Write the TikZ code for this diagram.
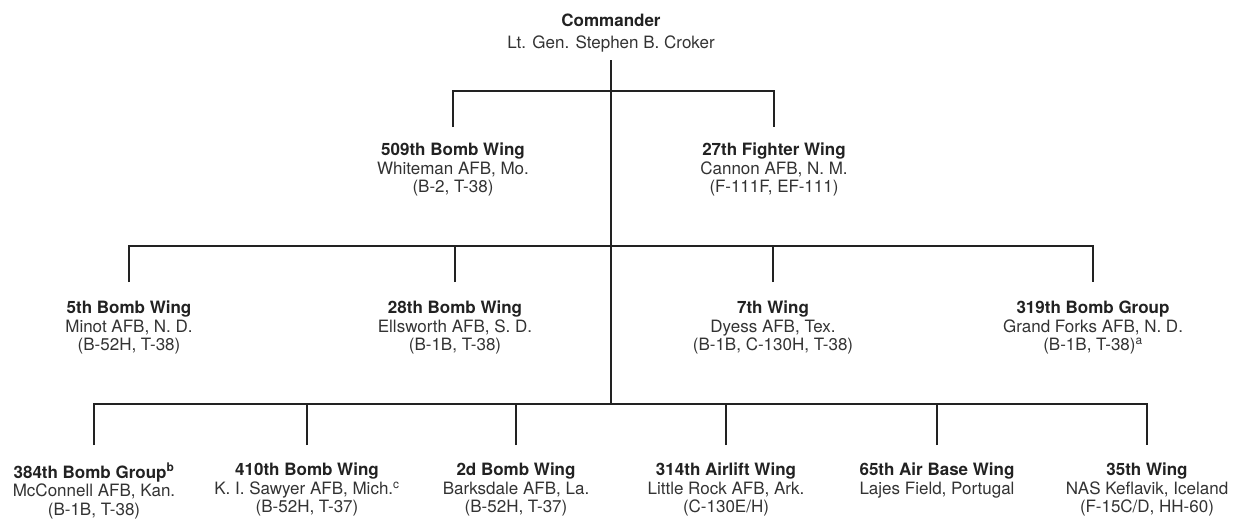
\documentclass[tikz,border=0pt]{standalone}
\usepackage{fontspec}
\setmainfont{TeX Gyre Heros}
\definecolor{ink}{HTML}{222222}
\definecolor{txt}{HTML}{333333}
\begin{document}
\begin{tikzpicture}[x=1pt,y=-1pt,
  unit/.style={anchor=north,align=center,inner sep=0pt,text=txt,
    font=\fontsize{17}{18.5}\selectfont},
  tree/.style={draw=ink,line width=2.4pt,line cap=butt,line join=miter}]
\useasboundingbox[fill=white] (0,0) rectangle (1253,523);
% commander
\node[unit,font=\fontsize{17}{21.5}\selectfont] (cmd) at (611,14) {\textbf{\color{ink}Commander}\\Lt. Gen. Stephen B. Croker};
% row 1
\node[unit] (w509) at (453,143) {\textbf{\color{ink}509th Bomb Wing}\\Whiteman AFB, Mo.\\(B-2, T-38)};
\node[unit] (w27) at (774,143) {\textbf{\color{ink}27th Fighter Wing}\\Cannon AFB, N. M.\\(F-111F, EF-111)};
% row 2
\node[unit] (w5) at (129,301) {\textbf{\color{ink}5th Bomb Wing}\\Minot AFB, N. D.\\(B-52H, T-38)};
\node[unit] (w28) at (455,301) {\textbf{\color{ink}28th Bomb Wing}\\Ellsworth AFB, S. D.\\(B-1B, T-38)};
\node[unit] (w7) at (773,301) {\textbf{\color{ink}7th Wing}\\Dyess AFB, Tex.\\(B-1B, C-130H, T-38)};
\node[unit] (g319) at (1093,301) {\textbf{\color{ink}319th Bomb Group}\\Grand Forks AFB, N. D.\\(B-1B, T-38)\textsuperscript{a}};
% row 3
\node[unit] (g384) at (94,463) {\textbf{\color{ink}384th Bomb Group\textsuperscript{b}}\\McConnell AFB, Kan.\\(B-1B, T-38)};
\node[unit] (w410) at (307,463) {\textbf{\color{ink}410th Bomb Wing}\\K. I. Sawyer AFB, Mich.\textsuperscript{c}\\(B-52H, T-37)};
\node[unit] (w2) at (516,463) {\textbf{\color{ink}2d Bomb Wing}\\Barksdale AFB, La.\\(B-52H, T-37)};
\node[unit] (w314) at (726,463) {\textbf{\color{ink}314th Airlift Wing}\\Little Rock AFB, Ark.\\(C-130E/H)};
\node[unit] (w65) at (937,463) {\textbf{\color{ink}65th Air Base Wing}\\Lajes Field, Portugal};
\node[unit] (w35) at (1147,463) {\textbf{\color{ink}35th Wing}\\NAS Keflavik, Iceland\\(F-15C/D, HH-60)};
% junctions
\coordinate (top) at (611,60);
\coordinate (b1) at (611,91);
\coordinate (b2) at (611,246);
\coordinate (b3) at (611,404);
% drop ends above the units
\coordinate (d509) at ([yshift=16pt]w509.north);
\coordinate (d27) at ([yshift=16pt]w27.north);
\coordinate (d5) at ([yshift=19pt]w5.north);
\coordinate (d28) at ([yshift=19pt]w28.north);
\coordinate (d7) at ([yshift=19pt]w7.north);
\coordinate (d319) at ([yshift=19pt]g319.north);
\coordinate (d384) at ([yshift=18pt]g384.north);
\coordinate (d410) at ([yshift=18pt]w410.north);
\coordinate (d2) at ([yshift=18pt]w2.north);
\coordinate (d314) at ([yshift=18pt]w314.north);
\coordinate (d65) at ([yshift=18pt]w65.north);
\coordinate (d35) at ([yshift=18pt]w35.north);
% connectors
\draw[tree] (top) -- (b3);
\draw[tree] (d509) |- (b1) -| (d27);
\draw[tree] (d5) |- (b2) -| (d319);
\draw[tree] (d28) -- (d28 |- b2);
\draw[tree] (d7) -- (d7 |- b2);
\draw[tree] (d384) |- (b3) -| (d35);
\draw[tree] (d410) -- (d410 |- b3);
\draw[tree] (d2) -- (d2 |- b3);
\draw[tree] (d314) -- (d314 |- b3);
\draw[tree] (d65) -- (d65 |- b3);
\end{tikzpicture}
\end{document}
